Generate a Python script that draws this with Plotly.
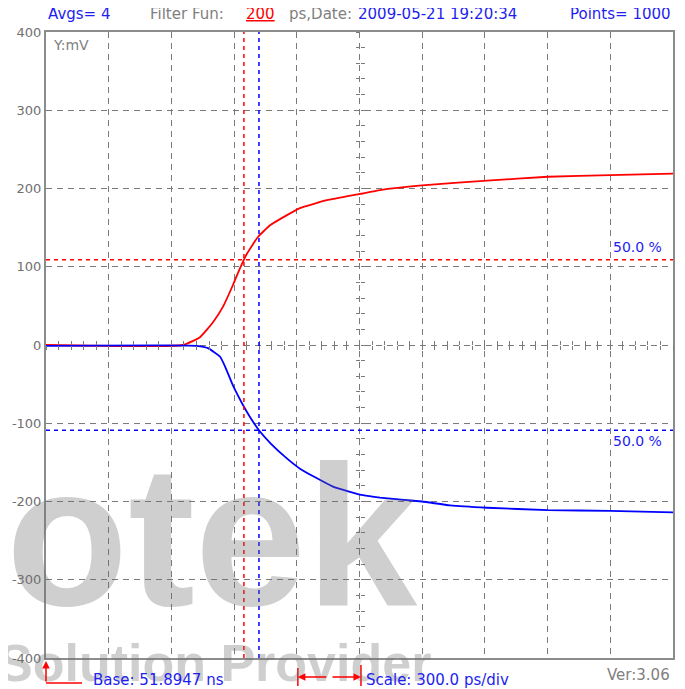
import plotly.graph_objects as go

# time axis in ps (10 divisions of 300 ps), amplitude in mV
red_t = [0, 655, 737, 799, 847, 895, 928, 962, 1014, 1072, 1153, 1215, 1344, 1502, 1598, 1799, 2110, 2402, 2699, 3000]
red_mv = [0, 0, 10, 29, 49, 77, 98, 117, 138, 153, 166, 175, 185, 193, 198, 204, 210, 215, 217, 219]

blue_t = [0, 722, 775, 833, 856, 895, 943, 976, 1019, 1072, 1144, 1215, 1373, 1517, 1598, 1799, 1933, 2110, 2402, 2699, 3000]
blue_mv = [-1, -1, -4, -15, -27, -52, -77, -92, -109, -125, -143, -158, -181, -192, -195, -200, -205, -208, -211, -212, -214]

red_cursor_t = 947
blue_cursor_t = 1019
red_level = 109
blue_level = -109

y_ticks = [-400, -300, -200, -100, 0, 100, 200, 300, 400]
y_tick_text = ["-400", "-300", "-200", "-100", "0", "100", "200", "300", "400"]

W, H = 685, 689
OFF = 8  # page body margin, positions below are given in window pixels
PL, PR, PT, PB = 46, 673, 32, 658  # plot box in window pixels
L, T = PL - OFF, PT - OFF
R, B = W - (PR - OFF), H - (PB - OFF)
PW, PH = PR - PL, PB - PT

BLUE = "#1e1ef0"
GRAY = "#808080"
FONT = "DejaVu Sans"


def px_x(p):
    return (p - PL) / PW


def px_y(p):
    return (PB - p) / PH


fig = go.Figure()

line_kw = dict(shape="spline", smoothing=0.4, width=1.8)
fig.add_trace(go.Scatter(x=red_t, y=red_mv, mode="lines", line=dict(color="#ff0000", **line_kw), hoverinfo="skip"))
fig.add_trace(go.Scatter(x=blue_t, y=blue_mv, mode="lines", line=dict(color="#0000ff", **line_kw), hoverinfo="skip"))
# empty traces so the centre tick axes get drawn
for k in (2, 3):
    fig.add_trace(go.Scatter(x=[], y=[], xaxis=f"x{k}", yaxis=f"y{k}", hoverinfo="skip"))

fig.add_vline(x=red_cursor_t, line=dict(color="#ff0000", width=1.5, dash="4px,4px"))
fig.add_vline(x=blue_cursor_t, line=dict(color="#0000ff", width=1.5, dash="4px,4px"))
fig.add_hline(y=red_level, line=dict(color="#ff0000", width=1.5, dash="4px,4px"))
fig.add_hline(y=blue_level, line=dict(color="#0000ff", width=1.5, dash="4px,4px"))

grid = dict(showgrid=True, gridcolor="#7a7a7a", gridwidth=1.3, griddash="6px,5px", zeroline=False,
            showline=True, linecolor="#8c8c8c", linewidth=2, mirror=True, ticks="")
center = dict(showgrid=False, zeroline=False, showline=False, showticklabels=False,
              ticklen=4, tickwidth=1.3, tickcolor="#7a7a7a", anchor="free", position=0.5)

fig.update_layout(
    width=W, height=H,
    margin=dict(l=L, r=R, t=T, b=B, autoexpand=False),
    plot_bgcolor="white", paper_bgcolor="white",
    showlegend=False,
    xaxis=dict(range=[0, 3000], dtick=300, tick0=0, showticklabels=False, **grid),
    yaxis=dict(range=[-400, 400], tickvals=y_ticks, ticktext=y_tick_text, automargin=False,
               tickfont=dict(family=FONT, size=13, color="#707070"), **grid),
    xaxis2=dict(overlaying="x", matches="x", dtick=60, tick0=0, ticks="outside", side="bottom", **center),
    xaxis3=dict(overlaying="x", matches="x", dtick=60, tick0=0, ticks="inside", side="bottom", **center),
    yaxis2=dict(overlaying="y", matches="y", dtick=20, tick0=0, ticks="outside", side="left", **center),
    yaxis3=dict(overlaying="y", matches="y", dtick=20, tick0=0, ticks="inside", side="left", **center),
)

ann = []
# watermark first so everything else sits on top
wm = "rgba(110,110,110,0.33)"
ann.append(dict(text="otek", x=px_x(212), y=px_y(535), font=dict(family="Liberation Sans", size=200, color=wm, weight="bold")))
ann.append(dict(text="Solution Provider", x=px_x(214), y=px_y(663), font=dict(family="Liberation Sans", size=52, color=wm, weight="bold")))


def txt(s, x, y, color, anchor="left", size=15):
    ann.append(dict(text=s, x=px_x(x), y=px_y(y), xanchor=anchor, font=dict(family=FONT, size=size, color=color)))


txt("Avgs= 4", 46, 14, BLUE)
txt("Filter Fun:", 148, 14, GRAY)
txt("<u>200</u>", 244, 14, "#ff0000")
txt("ps,Date:", 287, 14, GRAY)
txt("2009-05-21 19:20:34", 356, 14, BLUE)
txt("Points= 1000", 673, 14, BLUE, anchor="right")
txt("Y:mV", 51, 45, GRAY, size=14)
txt("50.0 %", 611, 247, BLUE, size=14)
txt("50.0 %", 611, 441, BLUE, size=14)
txt("Base: 51.8947 ns", 91, 680, BLUE)
txt("Scale: 300.0 ps/div", 364, 680, BLUE)
txt("Ver:3.06", 672, 675, GRAY, anchor="right")

for a in ann:
    a.setdefault("xref", "paper")
    a.setdefault("yref", "paper")
    a.setdefault("showarrow", False)
    a.setdefault("xanchor", "center")
    a.setdefault("yanchor", "middle")

arrow = dict(showarrow=True, arrowhead=2, arrowsize=1, arrowwidth=1.5, arrowcolor="#ff0000", text="")
# red scale marker (one division) and base marker below the plot
ann.append(dict(x=1205, y=px_y(677), xref="x", yref="paper", ax=30, ay=0, axref="pixel", ayref="pixel", **arrow))
ann.append(dict(x=1507, y=px_y(677), xref="x", yref="paper", ax=-30, ay=0, axref="pixel", ayref="pixel", **arrow))
ann.append(dict(x=px_x(46), y=px_y(661), xref="paper", yref="paper", ax=0, ay=22, axref="pixel", ayref="pixel", **arrow))
fig.update_layout(annotations=ann)

red = dict(color="#ff0000", width=1.5)
fig.add_shape(type="line", xref="paper", yref="paper", x0=px_x(46), x1=px_x(82), y0=px_y(683), y1=px_y(683), line=red)
fig.add_shape(type="line", xref="x", yref="paper", x0=1205, x1=1205, y0=px_y(668), y1=px_y(686), line=red)
fig.add_shape(type="line", xref="x", yref="paper", x0=1507, x1=1507, y0=px_y(665), y1=px_y(686), line=red)

fig.write_html("out.html")
